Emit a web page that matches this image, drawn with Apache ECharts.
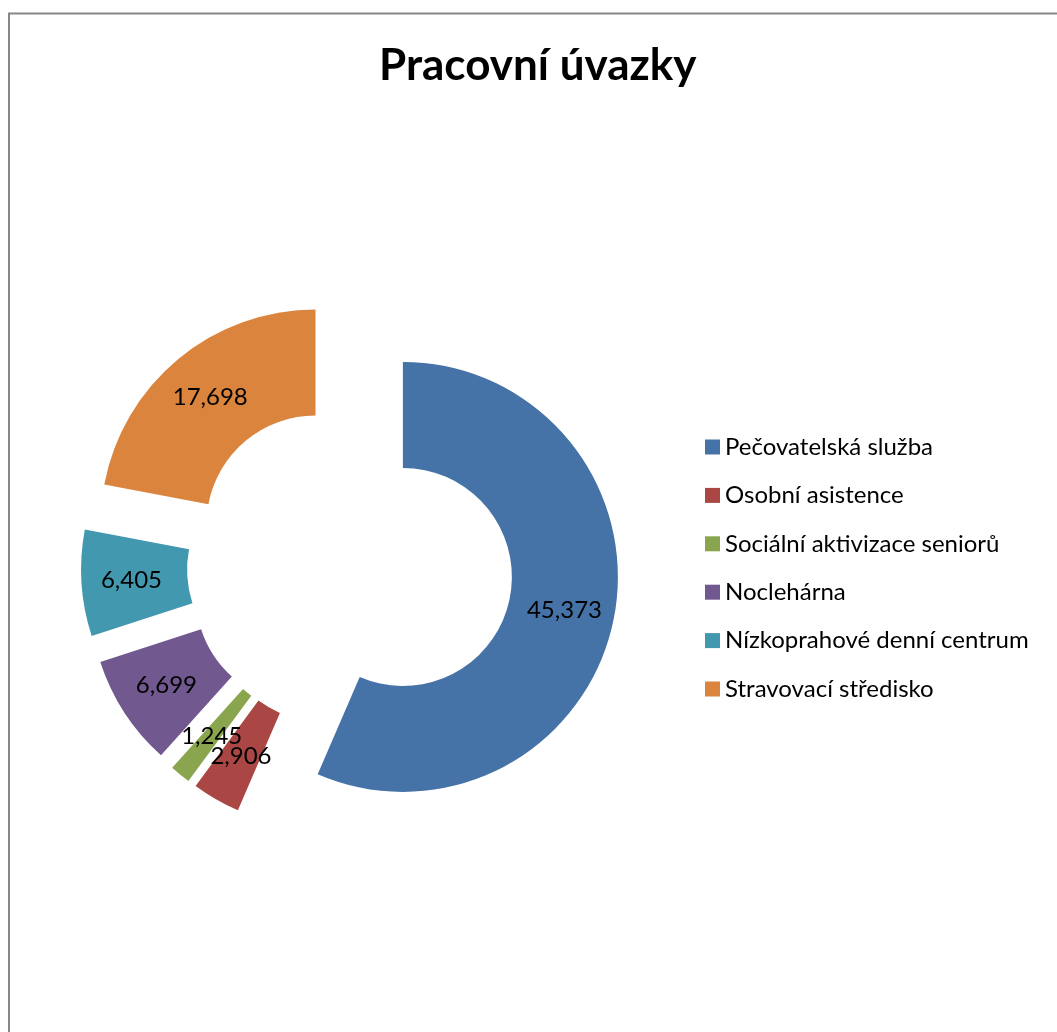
<!DOCTYPE html>
<html><head><meta charset="utf-8">
<script src="https://cdn.jsdelivr.net/npm/echarts@6/dist/echarts.min.js"></script>
<style>html,body{margin:0;padding:0;background:#fff}#c{width:1057px;height:1032px}</style>
</head><body><div id="c"></div>
<script>
const categories = ["Pečovatelská služba","Osobní asistence","Sociální aktivizace seniorů","Noclehárna","Nízkoprahové denní centrum","Stravovací středisko"];
const values = [45.373, 2.906, 1.245, 6.699, 6.405, 17.698];
const colors = ["#4572A7","#AA4643","#89A54E","#71588F","#4198AF","#DB843D"];
const titleText = "Pracovní úvazky";

const chart = echarts.init(document.getElementById('c'));
chart.setOption({
  animation: false,
  color: colors,
  title: { text: titleText, left: 374, top: 39, textStyle: { fontFamily: 'Lato', fontWeight: 'bold', fontSize: 44, color: '#000' } },
  legend: {
    orient: 'vertical', left: 705, top: 435, padding: 0, itemWidth: 15, itemHeight: 15, itemGap: 24.4,
    icon: 'rect', selectedMode: false,
    textStyle: { fontFamily: 'Lato', fontSize: 24, color: '#000' }
  },
  graphic: [{ type: 'rect', shape: { x: 9, y: 13.5, width: 1200, height: 1200 }, style: { fill: 'none', stroke: '#888', lineWidth: 2 }, silent: true }],
  series: [{
    type: 'pie', center: [350, 566], radius: [109, 215], startAngle: 90, clockwise: true,
    selectedMode: 'multiple', selectedOffset: 54,
    label: { position: 'inside', fontFamily: 'Lato', fontSize: 24, color: '#000',
      formatter: p => p.value.toFixed(3).replace('.', ',') },
    labelLayout: { hideOverlap: false },
    labelLine: { show: false },
    emphasis: { disabled: true },
    data: categories.map((n, i) => ({ name: n, value: values[i], selected: true }))
  }]
});
</script></body></html>
